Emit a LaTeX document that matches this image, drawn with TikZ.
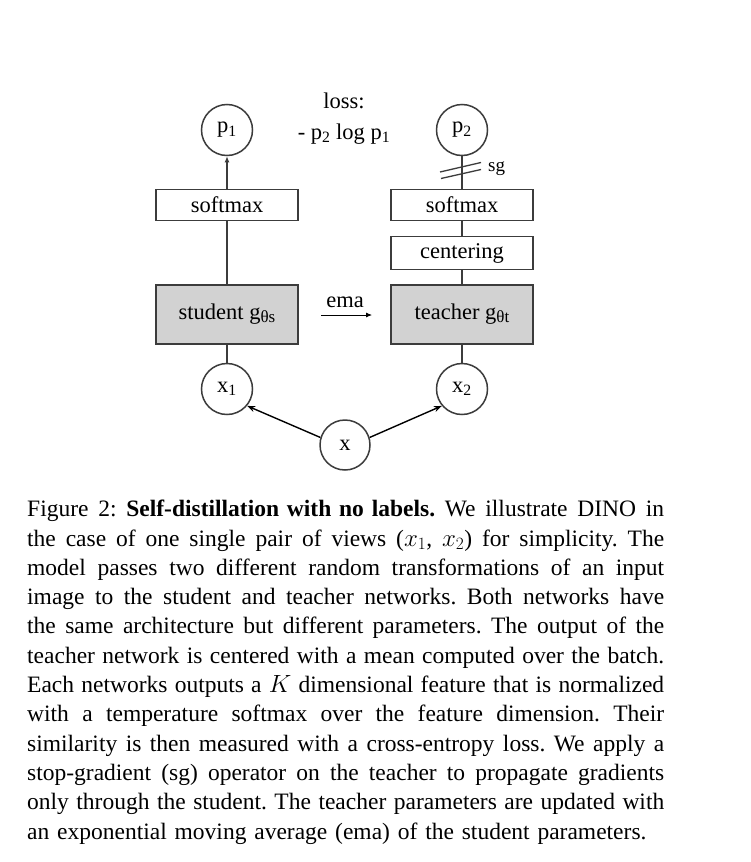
\documentclass[tikz,border=0pt]{standalone}
\usepackage{fontspec}
\setmainfont{Liberation Serif}
\usetikzlibrary{arrows.meta}
\definecolor{linecol}{RGB}{60,60,60}
\definecolor{boxgray}{RGB}{210,210,210}
\newcommand\dfont{\fontsize{22.5}{26}\selectfont}
\newcommand\cfont{\fontsize{23.5}{29.3}\selectfont}
\makeatletter
\def\jline#1{\hbox to 637pt{\jl@a#1 \jl@end}}
\def\jl@a#1 #2\jl@end{#1\if\relax\detokenize{#2}\relax\else\hskip\fontdimen2\font plus 1fil\relax\jl@a#2\jl@end\fi}
\makeatother
\newcommand\sbs[1]{\raisebox{-3pt}{\fontsize{17}{17}\selectfont #1}}
\tikzset{
  box/.style={draw=linecol, line width=1.5pt, minimum width=142pt, minimum height=31pt, inner sep=0pt, font=\dfont},
  netbox/.style={box, fill=boxgray, minimum height=59pt},
  circ/.style={circle, draw=linecol, line width=1.5pt, minimum size=51pt, inner sep=0pt, font=\dfont},
  conn/.style={draw=linecol, line width=1.5pt},
  inarrow/.style={draw=black, line width=1.4pt, -{Stealth[length=8pt,width=6pt]}},
  lbl/.style={inner sep=0pt, font=\dfont},
}
\begin{document}
\begin{tikzpicture}[x=1pt, y=-1pt]
\useasboundingbox (0,0) rectangle (750,862);
\fill[white] (0,0) rectangle (750,862);

% left column
\node[circ] (p1) at (227,130) {p\textsubscript{1}};
\node[box] (sm1) at (227,205) {softmax};
\node[netbox] (student) at (227,314.5) {student g\sbs{θs}};
\node[circ] (x1) at (227,389) {x\textsubscript{1}};

% right column
\node[circ] (p2) at (462,130) {p\textsubscript{2}};
\node[box] (sm2) at (462,205) {softmax};
\node[box, minimum height=33pt] (cent) at (462,253) {centering};
\node[netbox] (teacher) at (462,314.5) {teacher g\sbs{θt}};
\node[circ] (x2) at (462,389) {x\textsubscript{2}};

% input
\node[circ, minimum size=50pt] (x) at (345,445) {x};

% labels
\node[lbl, anchor=base] (loss1) at (344,108) {loss:};
\node[lbl, anchor=base] (loss2) at (344,139) {- p\textsubscript{2} log p\textsubscript{1}};
\node[lbl, anchor=west, font=\fontsize{19}{22}\selectfont] (sg) at (488,169) {sg};
\node[lbl, anchor=base] (ema) at (345,307) {ema};
\coordinate (emaA) at (321,315);
\coordinate (emaB) at (372,315);

% connectors
\draw[conn, -{Latex[length=6pt,width=5pt]}] (sm1) -- (p1);
\draw[conn] (student) -- (sm1);
\draw[conn] (x1) -- (student);
\draw[conn] (x2) -- (teacher);
\draw[conn] (teacher) -- (cent);
\draw[conn] (cent) -- (sm2);
\draw[conn] (sm2) -- (p2);
\draw[inarrow] (x.163) -- (x1.-40);
\draw[inarrow] (x.17) -- (x2.-140);
\draw[draw=black, line width=0.8pt, -{Latex[length=6pt,width=5pt]}] (emaA) -- (emaB);

% stop-gradient strike
\draw[conn, line width=1.3pt] (440,172) -- (481,162.5);
\draw[conn, line width=1.3pt] (441,178.5) -- (481,169.5);

% caption
\node[anchor=base west, inner sep=0pt, text width=637pt, font=\cfont] (cap) at (27,516.7) {%
\jline{Figure 2: \textbf{Self-distillation with no labels.} We illustrate DINO in}\par
\jline{the case of one single pair of views ($x_1$, $x_2$) for simplicity. The}\par
\jline{model passes two different random transformations of an input}\par
\jline{image to the student and teacher networks. Both networks have}\par
\jline{the same architecture but different parameters. The output of the}\par
\jline{teacher network is centered with a mean computed over the batch.}\par
\jline{Each networks outputs a $K$ dimensional feature that is normalized}\par
\jline{with a temperature softmax over the feature dimension. Their}\par
\jline{similarity is then measured with a cross-entropy loss. We apply a}\par
\jline{stop-gradient (sg) operator on the teacher to propagate gradients}\par
\jline{only through the student. The teacher parameters are updated with}\par
\hbox{an exponential moving average (ema) of the student parameters.}};
\end{tikzpicture}
\end{document}
